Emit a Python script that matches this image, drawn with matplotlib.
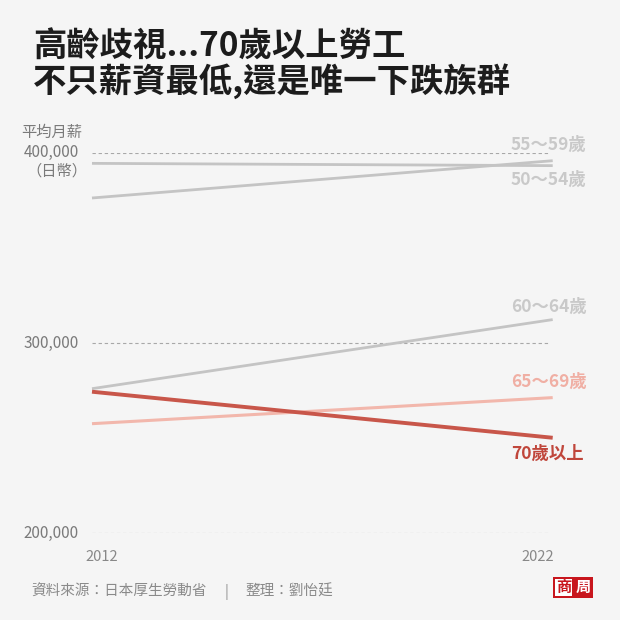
import matplotlib
matplotlib.use("Agg")
import matplotlib.pyplot as plt
from matplotlib.patches import Rectangle

plt.rcParams['font.family'] = ['Noto Sans CJK TC', 'DejaVu Sans']

# data (average monthly wage, yen)
years = [2012, 2022]
groups = ["50～54歲", "55～59歲", "60～64歲", "65～69歲", "70歲以上"]
wages = {
    "50～54歲": [394400, 393200],
    "55～59歲": [376200, 395800],
    "60～64歲": [276000, 312300],
    "65～69歲": [257600, 271300],
    "70歲以上": [274400, 250200],
}
y_ticks = [200000, 300000, 400000]
y_tick_labels = ["200,000", "300,000", "400,000"]

BG = "#f5f5f5"
line_colors = {
    "50～54歲": "#c4c4c4",
    "55～59歲": "#c4c4c4",
    "60～64歲": "#c4c4c4",
    "65～69歲": "#f2b7ac",
    "70歲以上": "#c8564a",
}
label_colors = {
    "50～54歲": "#c9c9c9",
    "55～59歲": "#c9c9c9",
    "60～64歲": "#c9c9c9",
    "65～69歲": "#f0afa4",
    "70歲以上": "#c0463b",
}
line_widths = {"50～54歲": 2.0, "55～59歲": 2.0, "60～64歲": 2.0, "65～69歲": 2.2, "70歲以上": 2.8}
# label vertical offsets (pixels) from line end
label_dy = {"50～54歲": -14, "55～59歲": 16, "60～64歲": 13, "65～69歲": 16, "70歲以上": -16}

fig = plt.figure(figsize=(6.2, 6.2), dpi=100, facecolor=BG)
ax = fig.add_axes([92 / 620, 1 - 533.3 / 620, 460.7 / 620, 380.6 / 620])
ax.set_facecolor(BG)
ax.set_xlim(2012, 2022)
ax.set_ylim(200000, 400000)
ax.axis("off")

# dashed gridlines
for yv, lab in zip(y_ticks, y_tick_labels):
    ax.hlines(yv, 2012, 2021.92, colors="#a8a8a8", linestyles=(0, (3, 2.5)), linewidth=0.8, zorder=1)
    ax.annotate(lab, xy=(2012, yv), xytext=(-13, 0), textcoords="offset pixels",
                ha="right", va="center", fontsize=11, color="#7a7a7a")

ax.annotate("平均月薪", xy=(2012, 400000), xytext=(-10, 20), textcoords="offset pixels",
            ha="right", va="center", fontsize=11, color="#7a7a7a")
ax.annotate("（日幣）", xy=(2012, 400000), xytext=(-5, -18), textcoords="offset pixels",
            ha="right", va="center", fontsize=11, color="#7a7a7a")

for g in groups:
    ax.plot(years, wages[g], color=line_colors[g], linewidth=line_widths[g],
            solid_capstyle="butt", zorder=3 if g == "70歲以上" else 2, clip_on=False)
    ax.annotate(g, xy=(years[-1], wages[g][-1]), xytext=(-42, label_dy[g]),
                textcoords="offset pixels", ha="left", va="center", fontsize=12.5,
                fontweight="bold", color=label_colors[g], annotation_clip=False)

# year labels
ax.annotate("2012", xy=(2012, 200000), xytext=(10, -24), textcoords="offset pixels",
            ha="center", va="center", fontsize=10.5, color="#888888", annotation_clip=False)
ax.annotate("2022", xy=(2022, 200000), xytext=(-15, -24), textcoords="offset pixels",
            ha="center", va="center", fontsize=10.5, color="#888888", annotation_clip=False)

# title
fig.text(33 / 620, 1 - 47 / 620, "高齡歧視...70歲以上勞工", fontsize=24, fontweight="bold",
         color="#1c1c1c", ha="left", va="center")
fig.text(33 / 620, 1 - 81 / 620, "不只薪資最低,還是唯一下跌族群", fontsize=24, fontweight="bold",
         color="#1c1c1c", ha="left", va="center")

# source
fig.text(31 / 620, 1 - 592 / 620, "資料來源：日本厚生勞動省", fontsize=10.5, color="#8a8a8a",
         ha="left", va="center")
fig.text(226 / 620, 1 - 592 / 620, "|", fontsize=10.5, color="#8a8a8a", ha="center", va="center")
fig.text(245 / 620, 1 - 592 / 620, "整理：劉怡廷", fontsize=10.5, color="#8a8a8a",
         ha="left", va="center")

# logo
lx, ly, lw, lh = 553 / 620, 1 - 597.5 / 620, 40 / 620, 21 / 620
fig.patches.append(Rectangle((lx, ly), lw, lh, transform=fig.transFigure, facecolor="#c8161d",
                             edgecolor="none"))
fig.patches.append(Rectangle((lx + 2 / 620, ly + 2 / 620), 17 / 620, 17 / 620,
                             transform=fig.transFigure, facecolor="white", edgecolor="none"))
fig.text(lx + 10.5 / 620, ly + lh / 2, "商", fontsize=11, fontweight="bold", color="#c8161d",
         ha="center", va="center")
fig.text(lx + 30 / 620, ly + lh / 2, "周", fontsize=11, fontweight="bold", color="white",
         ha="center", va="center")

fig.savefig("out.png", dpi=100, facecolor=BG)
